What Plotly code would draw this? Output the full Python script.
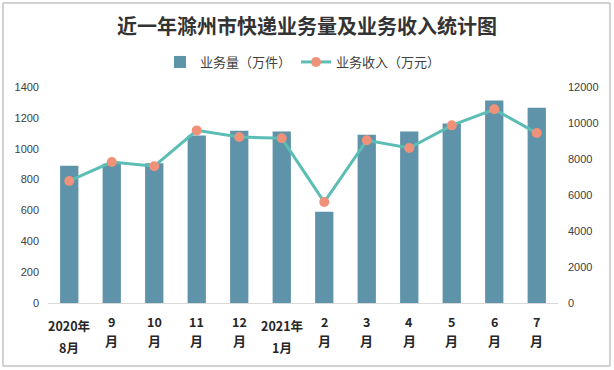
import plotly.graph_objects as go

categories = ["2020年8月", "9月", "10月", "11月", "12月", "2021年1月",
              "2月", "3月", "4月", "5月", "6月", "7月"]
label_line1 = ["2020年", "9", "10", "11", "12", "2021年", "2", "3", "4", "5", "6", "7"]
label_line2 = ["8月", "月", "月", "月", "月", "1月", "月", "月", "月", "月", "月", "月"]
volume = [890, 903, 905, 1085, 1117, 1111, 592, 1091, 1111, 1163, 1312, 1266]
revenue = [6780, 7830, 7600, 9590, 9220, 9150, 5610, 9040, 8610, 9870, 10760, 9440]

left_ticks = [0, 200, 400, 600, 800, 1000, 1200, 1400]
right_ticks = [0, 2000, 4000, 6000, 8000, 10000, 12000]

FONT = "Liberation Sans, Noto Sans CJK SC"
CJK = "Noto Sans CJK SC"
W, H = 614, 370
L, R, T, B = 48, 56, 87, 67
PW, PH = W - L - R, H - T - B

fig = go.Figure()
fig.add_trace(go.Bar(
    x=categories, y=volume, name="业务量（万件）",
    marker=dict(color="#5f93a9", line=dict(width=0)),
    yaxis="y",
))
fig.add_trace(go.Scatter(
    x=categories, y=revenue, name="业务收入（万元）", mode="lines+markers",
    line=dict(color="#5cbdb4", width=3),
    marker=dict(color="#f0917a", size=10),
    yaxis="y2",
))

fig.update_layout(
    width=W, height=H,
    margin=dict(l=L, r=R, t=T, b=B, autoexpand=False),
    paper_bgcolor="white", plot_bgcolor="white",
    font=dict(family=FONT, size=11, color="#404040"),
    title=dict(text="<b>近一年滁州市快递业务量及业务收入统计图</b>",
               x=0.5, xanchor="center", y=1 - 27 / H, yanchor="middle",
               font=dict(family=CJK, size=20, color="#333333")),
    showlegend=True,
    legend=dict(orientation="h", x=0.5, xanchor="center", y=1 - 62 / H, yref="container",
                yanchor="middle", font=dict(family=CJK, size=13, color="#404040"),
                traceorder="normal", itemwidth=30),
    bargap=0.57,
    xaxis=dict(showgrid=False, showline=True, linecolor="#d9d9d9", linewidth=1,
               automargin=False, ticks="", showticklabels=False,
               range=[-0.5, len(categories) - 0.5]),
    yaxis=dict(range=[0, 1400], tickvals=left_ticks, showgrid=False, zeroline=False,
               showline=False, ticks="", automargin=False, ticklabelstandoff=8,
               tickfont=dict(size=11, color="#404040")),
    yaxis2=dict(range=[0, 12000], tickvals=right_ticks, ticktext=[str(v) for v in right_ticks],
                overlaying="y", side="right", automargin=False, ticklabelstandoff=9,
                showgrid=False, zeroline=False, showline=False, ticks="",
                tickfont=dict(size=11, color="#404040")),
)

# two-line category labels under the axis
for cat, l1, l2 in zip(categories, label_line1, label_line2):
    is_year = "年" in l1
    y1 = 325 if is_year else 321
    y2 = 347 if is_year else 340
    for txt, ypx in ((l1, y1), (l2, y2)):
        fig.add_annotation(x=cat, xref="x", y=-(ypx - (H - B)) / PH, yref="paper",
                           text=f"<b>{txt}</b>", showarrow=False, xanchor="center",
                           yanchor="middle",
                           font=dict(family=CJK, size=13 if txt.endswith("月") and len(txt) == 1 else 12.5,
                                     color="#262626"))

# outer frame of the chart
fig.add_shape(type="rect", xref="paper", yref="paper",
              x0=-(L - 3) / PW, x1=1 + (R - 4) / PW, y0=-(B - 4) / PH, y1=1 + (T - 3) / PH,
              line=dict(color="#a6a6a6", width=1), layer="below")

fig.write_html("out.html", config={"displayModeBar": False},
               post_script="document.body.style.margin='0';document.body.style.padding='0';")
